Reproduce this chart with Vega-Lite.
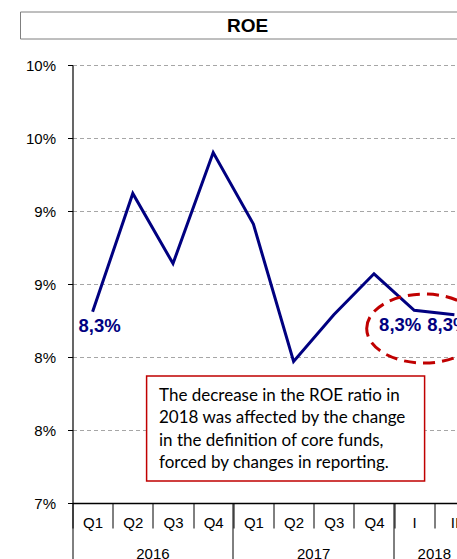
{
  "$schema": "https://vega.github.io/schema/vega-lite/v6.json",
  "padding": {"left": 18.5, "top": 10, "right": 0, "bottom": 0},
  "background": "white",
  "config": {"view": {"stroke": null}, "font": "Liberation Sans"},
  "spacing": 17,
  "vconcat": [
    {
      "width": 402,
      "height": 27,
      "data": {"values": [{"t": "ROE"}]},
      "layer": [
        {
          "mark": {
            "type": "point",
            "shape": "M -1 -0.05947 L 1 -0.05947 L 1 0.05947 L -1 0.05947 Z",
            "size": 206116, "filled": true, "fill": "white", "fillOpacity": 1, "opacity": 1,
            "stroke": "#7f7f7f", "strokeWidth": 1, "xOffset": -26
          }
        },
        {
          "mark": {"type": "text", "fontSize": 19, "fontWeight": "bold", "font": "Liberation Sans", "color": "black", "dx": -26},
          "encoding": {"text": {"field": "t"}}
        }
      ]
    },
    {
      "width": 402,
      "height": 438,
      "data": {
        "values": [
          {"period": "2016 Q1", "value": 8.31, "label": "8,3%"},
          {"period": "2016 Q2", "value": 9.12},
          {"period": "2016 Q3", "value": 8.64},
          {"period": "2016 Q4", "value": 9.40},
          {"period": "2017 Q1", "value": 8.91},
          {"period": "2017 Q2", "value": 7.97},
          {"period": "2017 Q3", "value": 8.29},
          {"period": "2017 Q4", "value": 8.57},
          {"period": "2018 I", "value": 8.32, "label": "8,3%"},
          {"period": "2018 II", "value": 8.29, "label": "8,3%"}
        ]
      },
      "resolve": {"axis": {"x": "independent"}},
      "layer": [
        {
          "mark": {"type": "line", "color": "#000080", "strokeWidth": 3},
          "encoding": {
            "x": {
              "field": "period", "type": "ordinal",
              "scale": {"paddingInner": 0, "paddingOuter": 0},
              "axis": {
                "orient": "bottom", "title": null, "grid": false,
                "tickBand": "extent", "tickSize": 25, "tickColor": "black", "tickWidth": 1,
                "domainColor": "black", "domainWidth": 1.5,
                "labelExpr": "split(datum.label, ' ')[1]",
                "labelAngle": 0, "labelPadding": -13, "labelFontSize": 15,
                "labelColor": "black", "labelFont": "Liberation Sans", "labelOverlap": false
              }
            },
            "y": {
              "field": "value", "type": "quantitative",
              "scale": {"domain": [7, 10], "nice": false, "zero": false},
              "axis": {
                "title": null,
                "values": [7, 7.5, 8, 8.5, 9, 9.5, 10],
                "labelExpr": "round(datum.value) + '%'",
                "tickSize": 5, "tickColor": "black",
                "domainColor": "black", "domainWidth": 1.2,
                "labelPadding": 12, "labelFontSize": 15, "labelColor": "black", "labelFont": "Liberation Sans",
                "grid": true, "gridColor": "#a6a6a6", "gridDash": [4, 3], "gridWidth": 1
              }
            }
          }
        },
        {
          "data": {"values": [{}]},
          "mark": {
            "type": "point",
            "shape": "M -1 0 A 1 0.6 0 1 1 1 0 A 1 0.6 0 1 1 -1 0 Z",
            "size": 13225, "filled": false, "stroke": "#c00000", "strokeWidth": 3,
            "strokeDash": [12, 7], "opacity": 1, "xOffset": 10
          },
          "encoding": {
            "x": {"datum": "2018 I", "type": "ordinal", "axis": null},
            "y": {"datum": 8.195, "type": "quantitative"}
          }
        },
        {
          "data": {"values": [{}]},
          "mark": {
            "type": "point",
            "shape": "M -1 -0.3777 L 1 -0.3777 L 1 0.3777 L -1 0.3777 Z",
            "size": 77284, "filled": true, "fill": "white", "fillOpacity": 1, "opacity": 1,
            "stroke": "#c00000", "strokeWidth": 1.5, "xOffset": -8
          },
          "encoding": {
            "x": {"datum": "2017 Q2", "type": "ordinal", "axis": null},
            "y": {"datum": 7.51, "type": "quantitative"}
          }
        },
        {
          "data": {"values": [{"note": ["The decrease in the ROE ratio in", "2018 was affected by the change", "in the definition of core funds,", "forced by changes in reporting."]}]},
          "mark": {
            "type": "text", "align": "left", "baseline": "top", "font": "Lato", "fontSize": 17,
            "lineHeight": 22.5, "color": "black", "dx": -14
          },
          "encoding": {
            "x": {"datum": "2016 Q3", "type": "ordinal", "axis": null},
            "y": {"datum": 7.79, "type": "quantitative"},
            "text": {"field": "note"}
          }
        },
        {
          "transform": [{"filter": "datum.period === '2016 Q1'"}],
          "mark": {"type": "text", "fontSize": 18.5, "fontWeight": "bold", "font": "Liberation Sans", "color": "#000080", "baseline": "middle", "dx": 7, "dy": 14},
          "encoding": {
            "x": {
              "field": "period", "type": "ordinal",
              "axis": {
                "orient": "bottom", "title": null, "grid": false, "domain": false,
                "values": ["2016 Q1", "2017 Q1", "2018 I"],
                "bandPosition": 0, "tickSize": 60, "tickColor": "black", "tickWidth": 1,
                "labelExpr": "split(datum.label, ' ')[0]",
                "labelOffset": {"condition": {"test": "datum.value === '2018 I'", "value": 20.1}, "value": 60.3},
                "labelAngle": 0, "labelPadding": -17, "labelFontSize": 15,
                "labelColor": "black", "labelFont": "Liberation Sans", "labelOverlap": false
              }
            },
            "y": {"field": "value", "type": "quantitative"},
            "text": {"field": "label"}
          }
        },
        {
          "transform": [{"filter": "datum.period === '2018 I'"}],
          "mark": {"type": "text", "fontSize": 18.5, "fontWeight": "bold", "font": "Liberation Sans", "color": "#000080", "baseline": "middle", "dx": -14, "dy": 15},
          "encoding": {
            "x": {"field": "period", "type": "ordinal", "axis": null},
            "y": {"field": "value", "type": "quantitative"},
            "text": {"field": "label"}
          }
        },
        {
          "transform": [{"filter": "datum.period === '2018 II'"}],
          "mark": {"type": "text", "fontSize": 18.5, "fontWeight": "bold", "font": "Liberation Sans", "color": "#000080", "baseline": "middle", "dx": -6, "dy": 10},
          "encoding": {
            "x": {"field": "period", "type": "ordinal", "axis": null},
            "y": {"field": "value", "type": "quantitative"},
            "text": {"field": "label"}
          }
        }
      ]
    }
  ]
}
